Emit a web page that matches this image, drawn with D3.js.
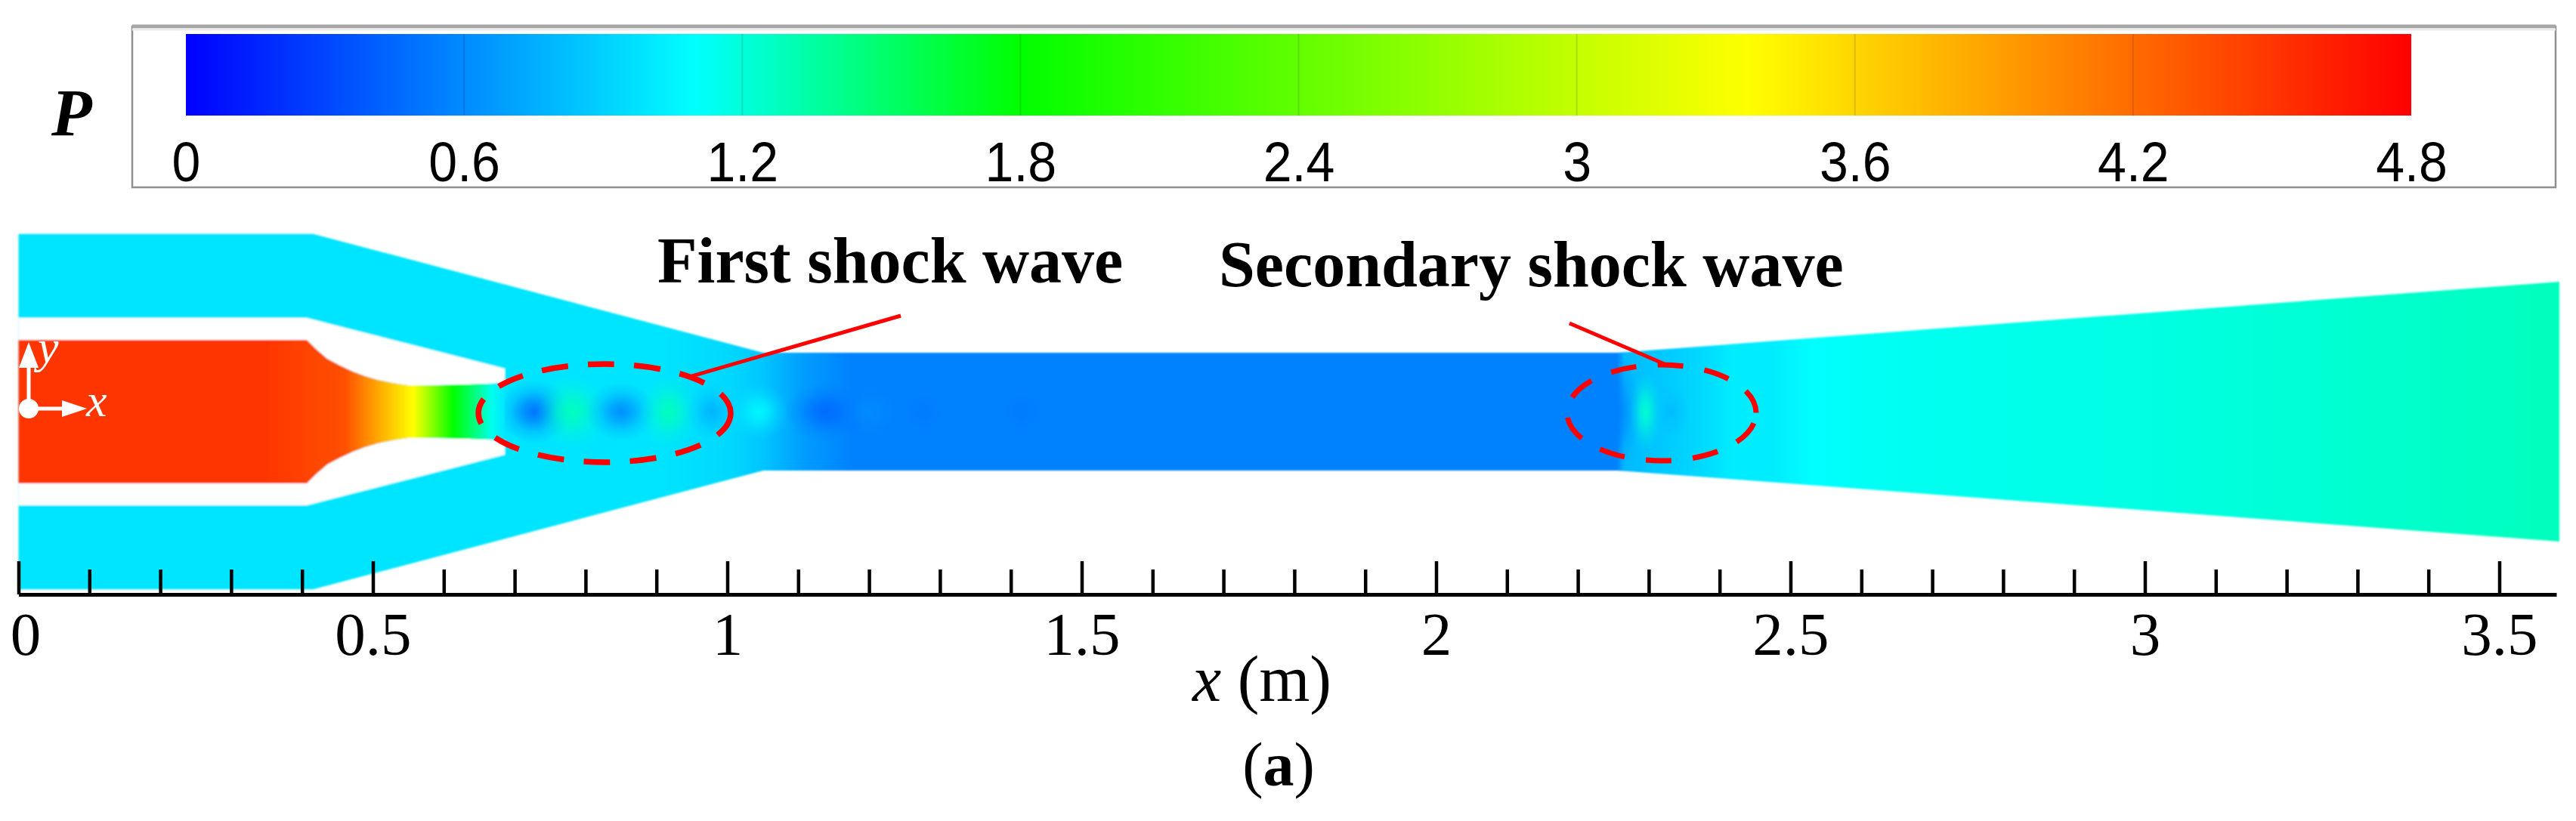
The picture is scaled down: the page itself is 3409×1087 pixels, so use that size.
<!DOCTYPE html>
<html>
<head>
<meta charset="utf-8">
<title>Ejector pressure field</title>
<script src="https://cdn.jsdelivr.net/npm/d3@7"></script>
<style>
  body { margin: 0; background: #fff; }
  svg { display: block; }
  text { fill: #000; }
</style>
</head>
<body>
<div id="chart"></div>
<script>
// Colour bar: pressure ticks and the colour map stops
const pressureTicks = [0, 0.6, 1.2, 1.8, 2.4, 3, 3.6, 4.2, 4.8];
const colorStopP = [0, 1.1, 1.8, 3.37, 4.8];
const colorStopC = ["#0000ff", "#00ffff", "#00ff00", "#ffff00", "#ff0000"];

// x axis ticks (m)
const xMajorTicks = [0, 0.5, 1, 1.5, 2, 2.5, 3, 3.5];
const xMinorTicks = [
  0.1, 0.2, 0.3, 0.4, 0.6, 0.7, 0.8, 0.9, 1.1, 1.2, 1.3, 1.4, 1.6, 1.7, 1.8,
  1.9, 2.1, 2.2, 2.3, 2.4, 2.6, 2.7, 2.8, 2.9, 3.1, 3.2, 3.3, 3.4,
];

// Outer boundary of the flow domain (m), upper half, mirrored for the lower half
const domainX = [0, 0.4158, 1.0507, 2.2553, 3.5848];
const domainY = [0.2495, 0.2495, 0.0827, 0.0827, 0.1824];

// Primary nozzle contour (m) and the outer face of the nozzle wall
const nozzleX = [0, 0.4067, 0.4195, 0.4355, 0.4536, 0.4718, 0.4888, 0.5069, 0.5283, 0.5496, 0.5922, 0.6349, 0.686];
const nozzleY = [0.1007, 0.1007, 0.088, 0.0742, 0.0647, 0.0562, 0.0498, 0.0445, 0.0403, 0.0371, 0.0371, 0.0382, 0.0403];
const wallY = [0.1315, 0.1315, 0.1282, 0.1242, 0.1196, 0.1149, 0.1106, 0.106, 0.1005, 0.0951, 0.0843, 0.0734, 0.0604];

// Pressure along the nozzle (m, P)
const jetX = [0, 0.3468, 0.4604, 0.5127, 0.557, 0.6135, 0.6488, 0.6668, 0.686];
const jetP = [4.5, 4.5, 4.35, 3.8, 3.37, 1.8, 1.4, 1.15, 1.0];

// Pressure along the duct (m, P)
const ductX = [0, 0.905, 1.005, 1.0507, 1.106, 1.176, 2.2553, 2.2653, 2.312, 2.3725, 2.417, 2.473, 2.533, 2.614, 3.016, 3.5848];
const ductP = [0.99, 0.99, 0.93, 0.85, 0.68, 0.56, 0.56, 0.8, 0.86, 0.93, 1.02, 1.02, 1.1, 1.13, 1.18, 1.28];

// Shock cells on the centre line: position, half sizes (m) and peak pressure
const cellX = [0.7276, 0.781, 0.8502, 0.9174, 0.9782, 1.045, 1.1391, 1.1999, 1.2768, 1.4155, 2.2553, 2.2955, 2.3314];
const cellRx = [0.052, 0.05, 0.05, 0.042, 0.036, 0.042, 0.058, 0.04, 0.03, 0.03, 0.032, 0.022, 0.026];
const cellRy = [0.045, 0.052, 0.042, 0.052, 0.04, 0.04, 0.042, 0.032, 0.03, 0.03, 0.083, 0.056, 0.04];
const cellP = [0.5, 1.28, 0.62, 1.28, 0.78, 1.06, 0.46, 0.6, 0.53, 0.53, 0.56, 1.22, 0.82];

const width = 3409;
const height = 1087;

const svg = d3
  .select("#chart")
  .append("svg")
  .attr("width", width)
  .attr("height", height)
  .attr("viewBox", [0, 0, width, height]);

const defs = svg.append("defs");

// Scales for the flow picture and the colour bar
const xScale = d3.scaleLinear().domain([0, 3.5805]).range([24.5, 3383]);
const yScale = d3.scaleLinear().domain([0, 1]).range([545, 545 - 943]);
const pScale = d3.scaleLinear().domain([0, 4.8]).range([246, 3191]);
const colorScale = d3.scaleLinear().domain(colorStopP).range(colorStopC);

// Function to add a horizontal gradient built from (position, pressure) pairs
function addGradient(id, xs, ps, x1, x2) {
  const grad = defs
    .append("linearGradient")
    .attr("id", id)
    .attr("gradientUnits", "userSpaceOnUse")
    .attr("x1", x1)
    .attr("x2", x2)
    .attr("y1", 0)
    .attr("y2", 0);
  grad
    .selectAll("stop")
    .data(xs)
    .join("stop")
    .attr("offset", (d) => d)
    .attr("stop-color", (d, i) => colorScale(ps[i]));
}

// ---- Colour bar ----
svg
  .append("rect")
  .attr("x", 175)
  .attr("y", 35)
  .attr("width", 3207)
  .attr("height", 213)
  .attr("fill", "#fff")
  .attr("stroke", "#8f8f8f")
  .attr("stroke-width", 2.5);
svg
  .append("line")
  .attr("x1", 175)
  .attr("x2", 3382)
  .attr("y1", 35)
  .attr("y2", 35)
  .attr("stroke", "#a6a6a6")
  .attr("stroke-width", 5);
svg
  .append("line")
  .attr("x1", 175)
  .attr("x2", 3382)
  .attr("y1", 39)
  .attr("y2", 39)
  .attr("stroke", "#ececec")
  .attr("stroke-width", 3);

addGradient(
  "barGradient",
  colorStopP.map((p) => p / 4.8),
  colorStopP,
  pScale(0),
  pScale(4.8)
);
svg
  .append("rect")
  .attr("x", pScale(0))
  .attr("y", 45)
  .attr("width", pScale(4.8) - pScale(0))
  .attr("height", 108)
  .attr("fill", "url(#barGradient)");

// Faint contour lines on the bar at each tick
svg
  .selectAll(".barTick")
  .data(pressureTicks.slice(1, -1))
  .join("line")
  .attr("class", "barTick")
  .attr("x1", (d) => pScale(d))
  .attr("x2", (d) => pScale(d))
  .attr("y1", 45)
  .attr("y2", 153)
  .attr("stroke", "#000")
  .attr("stroke-opacity", 0.13)
  .attr("stroke-width", 2);

const barAxis = svg
  .append("g")
  .attr("transform", "translate(0,153)")
  .call(
    d3
      .axisBottom(pScale)
      .tickValues(pressureTicks)
      .tickFormat((d) => d)
      .tickSize(0)
  );
barAxis.select(".domain").remove();
barAxis
  .selectAll("text")
  .attr("y", 87)
  .attr("dy", 0)
  .attr("transform", "scale(0.92,1)")
  .attr("font-family", "'Liberation Sans', Arial, sans-serif")
  .attr("font-size", 74);

svg
  .append("text")
  .attr("x", 68)
  .attr("y", 179)
  .attr("font-family", "'Liberation Serif', serif")
  .attr("font-weight", "bold")
  .attr("font-style", "italic")
  .attr("font-size", 88)
  .text("P");

// ---- Flow field ----
const xEnd = domainX[domainX.length - 1];
const upper = domainX.map((d, i) => [xScale(d), yScale(domainY[i])]);
const lower = domainX.map((d, i) => [xScale(d), yScale(-domainY[i])]).reverse();
const outline = d3.line()(upper.concat(lower)) + "Z";

defs.append("clipPath").attr("id", "ductClip").append("path").attr("d", outline);
defs
  .append("filter")
  .attr("id", "soften")
  .append("feGaussianBlur")
  .attr("stdDeviation", 0.9);

addGradient(
  "ductGradient",
  ductX.map((d) => d / xEnd),
  ductP,
  xScale(0),
  xScale(xEnd)
);
addGradient(
  "jetGradient",
  jetX.map((d) => d / 0.686),
  jetP,
  xScale(0),
  xScale(0.686)
);

const field = svg.append("g").attr("filter", "url(#soften)");
field.append("path").attr("d", outline).attr("fill", "url(#ductGradient)");

// Each shock cell is a soft radial patch of its own pressure colour
const cellGradients = defs
  .selectAll(".cellGradient")
  .data(cellX)
  .join("radialGradient")
  .attr("class", "cellGradient")
  .attr("id", (d, i) => "cell" + i);
[
  [0, 1],
  [0.3, 0.7],
  [0.65, 0.25],
  [1, 0],
].forEach(([offset, opacity]) => {
  cellGradients
    .append("stop")
    .attr("offset", offset)
    .attr("stop-color", (d, i) => colorScale(cellP[i]))
    .attr("stop-opacity", opacity);
});

field
  .append("g")
  .attr("clip-path", "url(#ductClip)")
  .selectAll("ellipse")
  .data(cellX)
  .join("ellipse")
  .attr("cx", (d) => xScale(d))
  .attr("cy", yScale(0))
  .attr("rx", (d, i) => xScale(cellRx[i]) - xScale(0))
  .attr("ry", (d, i) => yScale(0) - yScale(cellRy[i]))
  .attr("fill", (d, i) => `url(#cell${i})`);

// Nozzle walls are left white, above and below the axis
const wallArea = d3
  .area()
  .x((d) => xScale(d))
  .y0((d, i) => yScale(nozzleY[i]))
  .y1((d, i) => yScale(wallY[i]));
const wallAreaLow = d3
  .area()
  .x((d) => xScale(d))
  .y0((d, i) => yScale(-nozzleY[i]))
  .y1((d, i) => yScale(-wallY[i]));
field.append("path").attr("d", wallArea(nozzleX)).attr("fill", "#fff");
field.append("path").attr("d", wallAreaLow(nozzleX)).attr("fill", "#fff");

// Primary jet inside the nozzle
const jetArea = d3
  .area()
  .x((d) => xScale(d))
  .y0((d, i) => yScale(nozzleY[i]))
  .y1((d, i) => yScale(-nozzleY[i]));
field.append("path").attr("d", jetArea(nozzleX)).attr("fill", "url(#jetGradient)");

// ---- Coordinate triad at the origin ----
const triad = svg.append("g").attr("fill", "#fff").attr("stroke", "none");
triad.append("circle").attr("cx", 38).attr("cy", 541).attr("r", 13);
triad.append("rect").attr("x", 38).attr("y", 538.5).attr("width", 50).attr("height", 5);
triad.append("rect").attr("x", 35.5).attr("y", 485).attr("width", 5).attr("height", 50);
triad.append("path").attr("d", d3.line()([[82, 530], [115, 541], [82, 552]]) + "Z");
triad.append("path").attr("d", d3.line()([[25, 487], [38, 453], [51, 487]]) + "Z");
triad
  .append("text")
  .attr("x", 114)
  .attr("y", 551)
  .text("x");
triad
  .append("text")
  .attr("x", 50)
  .attr("y", 480)
  .text("y");
triad
  .selectAll("text")
  .style("fill", "#fff")
  .attr("font-family", "'Liberation Serif', serif")
  .attr("font-style", "italic")
  .attr("font-size", 62);

// ---- x axis, ticks pointing up into the picture ----
const axisY = 787;
const minorAxis = svg
  .append("g")
  .attr("transform", `translate(0,${axisY})`)
  .call(
    d3
      .axisBottom(xScale)
      .tickValues(xMinorTicks)
      .tickFormat("")
      .tickSizeInner(-33)
      .tickSizeOuter(0)
  );
const majorAxis = svg
  .append("g")
  .attr("transform", `translate(0,${axisY})`)
  .call(
    d3
      .axisBottom(xScale)
      .tickValues(xMajorTicks)
      .tickFormat((d) => d)
      .tickSizeInner(-44)
      .tickSizeOuter(0)
      .tickPadding(0)
  );
minorAxis.selectAll("line").attr("stroke-width", 4.5);
majorAxis.selectAll("line").attr("stroke-width", 4.5);
majorAxis.select(".domain").attr("stroke-width", 5);
minorAxis.select(".domain").remove();
majorAxis
  .selectAll("text")
  .attr("y", 80)
  .attr("dy", 0)
  .attr("dx", (d) => (d === 0 ? 9 : 0))
  .attr("font-family", "'Liberation Serif', serif")
  .attr("font-size", 81);

const xLabel = svg
  .append("text")
  .attr("x", 1670)
  .attr("y", 928)
  .attr("text-anchor", "middle")
  .attr("font-family", "'Liberation Serif', serif")
  .attr("font-size", 86);
xLabel.append("tspan").attr("font-style", "italic").text("x");
xLabel.append("tspan").text(" (m)");

const panelLabel = svg
  .append("text")
  .attr("x", 1692)
  .attr("y", 1040)
  .attr("text-anchor", "middle")
  .attr("font-family", "'Liberation Serif', serif")
  .attr("font-size", 82);
panelLabel.append("tspan").text("(");
panelLabel.append("tspan").attr("font-weight", "bold").text("a");
panelLabel.append("tspan").text(")");

// ---- Shock wave annotations ----
svg
  .append("ellipse")
  .attr("cx", xScale(0.8268))
  .attr("cy", yScale(-0.0021))
  .attr("rx", xScale(0.178) - xScale(0))
  .attr("ry", yScale(0) - yScale(0.0689))
  .attr("fill", "none")
  .attr("stroke", "#ff0000")
  .attr("stroke-width", 7.5)
  .attr("stroke-dasharray", "35 26.2");
svg
  .append("ellipse")
  .attr("cx", xScale(2.3182))
  .attr("cy", yScale(-0.0016))
  .attr("rx", xScale(0.1333) - xScale(0))
  .attr("ry", yScale(0) - yScale(0.0673))
  .attr("fill", "none")
  .attr("stroke", "#ff0000")
  .attr("stroke-width", 7)
  .attr("stroke-dasharray", "34 28.3")
  .attr("stroke-dashoffset", 48);

svg
  .append("line")
  .attr("x1", xScale(0.9493))
  .attr("y1", yScale(0.0498))
  .attr("x2", xScale(1.2447))
  .attr("y2", yScale(0.1347))
  .attr("stroke", "#ff0000")
  .attr("stroke-width", 5);
svg
  .append("line")
  .attr("x1", xScale(2.1881))
  .attr("y1", yScale(0.1241))
  .attr("x2", xScale(2.3224))
  .attr("y2", yScale(0.0668))
  .attr("stroke", "#ff0000")
  .attr("stroke-width", 5);

svg
  .append("text")
  .attr("x", 870)
  .attr("y", 374)
  .attr("font-family", "'Liberation Serif', serif")
  .attr("font-weight", "bold")
  .attr("font-size", 86)
  .text("First shock wave");
svg
  .append("text")
  .attr("x", 1613)
  .attr("y", 379)
  .attr("font-family", "'Liberation Serif', serif")
  .attr("font-weight", "bold")
  .attr("font-size", 86)
  .text("Secondary shock wave");
</script>
</body>
</html>
